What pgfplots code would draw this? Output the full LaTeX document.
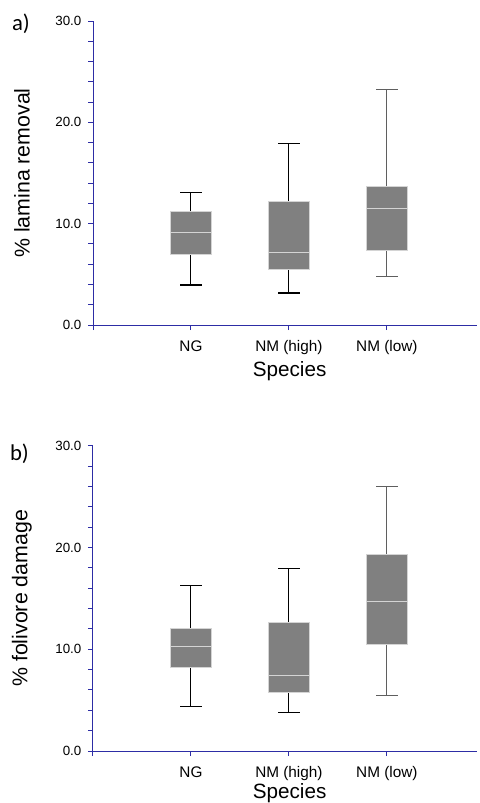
\documentclass[border=0pt]{standalone}
\usepackage{pgfplots}
\pgfplotsset{compat=1.18}
\usepackage{fontspec}
\setmainfont{Liberation Sans}
\newfontfamily\calib{Carlito}
\definecolor{boxfill}{RGB}{128,128,128}
\definecolor{boxedge}{RGB}{212,212,212}
\definecolor{axblue}{RGB}{45,45,165}
\definecolor{whiskgray}{RGB}{95,95,95}

\pgfplotsset{
 boxstyle/.style={
  width=288pt, height=228pt, scale only axis,
  xmin=0, xmax=3.92, ymin=0, ymax=30,
  axis lines=left, axis line style={-, draw=axblue, line width=0.75pt},
  tick align=outside, major tick length=3.75pt, minor tick length=3.75pt,
  tick style={draw=axblue, line width=0.75pt},
  xtick={0,1,2,3}, xticklabels={,NG,NM (high),NM (low)},
  ytick={0,10,20,30}, yticklabels={0.0,10.0,20.0,30.0},
  minor ytick={2,4,6,8,12,14,16,18,22,24,26,28},
  xticklabel style={font=\fontsize{11.5}{13}\selectfont, yshift=-4.5pt},
  yticklabel style={font=\fontsize{10}{12}\selectfont, xshift=-1.5pt},
  xlabel={Species},
  xlabel style={font=\fontsize{15.5}{18}\selectfont, at={(axis description cs:0.512,0)}, anchor=north, yshift=-23.8pt},
  ylabel style={font=\fontsize{16}{19}\selectfont, at={(axis description cs:-0.185,0.5)}, anchor=center},
 },
 wh/.style={draw=black, line width=0.8pt},
 whg/.style={draw=whiskgray, line width=0.8pt},
 bx/.style={draw=boxedge, fill=boxfill, line width=0.75pt},
 md/.style={draw=boxedge, line width=0.75pt},
}

\begin{document}
\begin{tikzpicture}
\useasboundingbox (0,0) rectangle (359.25pt,-602.25pt);

% ---------- a) % lamina removal ----------
\begin{axis}[boxstyle, at={(69.75pt,-243.75pt)}, anchor=south west, ylabel={\% lamina removal}]
% NG: lw 3.95, lq 6.94, med 9.11, uq 11.18, uw 13.06
\addplot[wh] coordinates {(1,11.18) (1,13.06) (0.89,13.06) (1.11,13.06)};
\addplot[wh] coordinates {(1,6.94) (1,3.95) (0.89,3.95) (1.11,3.95)};
\addplot[bx] coordinates {(0.79,6.94) (1.21,6.94) (1.21,11.18) (0.79,11.18)} -- cycle;
\addplot[md] coordinates {(0.79,9.11) (1.21,9.11)};
% NM (high): lw 3.16, lq 5.43, med 7.11, uq 12.14, uw 17.87
\addplot[wh] coordinates {(2,12.14) (2,17.87) (1.89,17.87) (2.11,17.87)};
\addplot[wh] coordinates {(2,5.43) (2,3.16) (1.89,3.16) (2.11,3.16)};
\addplot[bx] coordinates {(1.79,5.43) (2.21,5.43) (2.21,12.14) (1.79,12.14)} -- cycle;
\addplot[md] coordinates {(1.79,7.11) (2.21,7.11)};
% NM (low): lw 4.77, lq 7.40, med 11.52, uq 13.65, uw 23.23
\addplot[whg] coordinates {(3,13.65) (3,23.23) (2.89,23.23) (3.11,23.23)};
\addplot[whg] coordinates {(3,7.40) (3,4.77) (2.89,4.77) (3.11,4.77)};
\addplot[bx] coordinates {(2.79,7.40) (3.21,7.40) (3.21,13.65) (2.79,13.65)} -- cycle;
\addplot[md] coordinates {(2.79,11.52) (3.21,11.52)};
\end{axis}

% ---------- b) % folivore damage ----------
\begin{axis}[boxstyle, height=229pt, at={(69.75pt,-563.25pt)}, anchor=south west, ylabel={\% folivore damage}, xlabel style={yshift=2.6pt}]
% NG: lw 4.35, lq 8.18, med 10.22, uq 12.08, uw 16.28
\addplot[wh] coordinates {(1,12.08) (1,16.28) (0.89,16.28) (1.11,16.28)};
\addplot[wh] coordinates {(1,8.18) (1,4.35) (0.89,4.35) (1.11,4.35)};
\addplot[bx] coordinates {(0.79,8.18) (1.21,8.18) (1.21,12.08) (0.79,12.08)} -- cycle;
\addplot[md] coordinates {(0.79,10.22) (1.21,10.22)};
% NM (high): lw 3.76, lq 5.70, med 7.40, uq 12.60, uw 17.95
\addplot[wh] coordinates {(2,12.60) (2,17.95) (1.89,17.95) (2.11,17.95)};
\addplot[wh] coordinates {(2,5.70) (2,3.76) (1.89,3.76) (2.11,3.76)};
\addplot[bx] coordinates {(1.79,5.70) (2.21,5.70) (2.21,12.60) (1.79,12.60)} -- cycle;
\addplot[md] coordinates {(1.79,7.40) (2.21,7.40)};
% NM (low): lw 5.43, lq 10.48, med 14.70, uq 19.28, uw 26.00
\addplot[whg] coordinates {(3,19.28) (3,26.00) (2.89,26.00) (3.11,26.00)};
\addplot[whg] coordinates {(3,10.48) (3,5.43) (2.89,5.43) (3.11,5.43)};
\addplot[bx] coordinates {(2.79,10.48) (3.21,10.48) (3.21,19.28) (2.79,19.28)} -- cycle;
\addplot[md] coordinates {(2.79,14.70) (3.21,14.70)};
\end{axis}

\node[font=\calib\fontsize{17}{20}\selectfont, anchor=center] at (15.75pt,-18pt) {a)};
\node[font=\calib\fontsize{17}{20}\selectfont, anchor=center] at (14.6pt,-340pt) {b)};
\end{tikzpicture}
\end{document}
